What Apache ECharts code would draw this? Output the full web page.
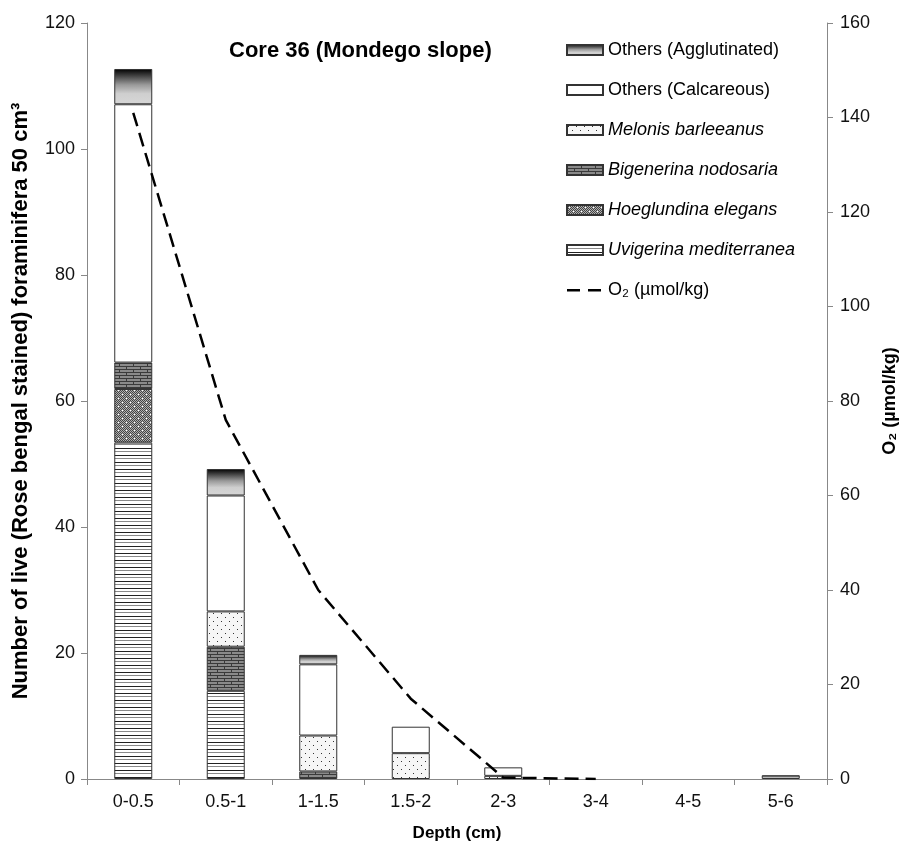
<!DOCTYPE html>
<html>
<head>
<meta charset="utf-8">
<script src="https://cdn.jsdelivr.net/npm/echarts@6/dist/echarts.min.js"></script>
<style>
html,body{margin:0;padding:0;background:#fff;}
#chart{width:908px;height:843px;}
</style>
</head>
<body>
<div id="chart"></div>
<script>
// ---- data ----
var categories = ['0-0.5','0.5-1','1-1.5','1.5-2','2-3','3-4','4-5','5-6'];
var uvigerina    = [53.4, 14.0, 0,   0,   0,   0, 0, 0];
var hoeglundina  = [8.5,  0,    0,   0,   0,   0, 0, 0];
var bigenerina   = [4.2,  7.0,  1.2, 0,   0,   0, 0, 0];
var melonis      = [0,    5.6,  5.7, 4.1, 0.5, 0, 0, 0];
var calcareous   = [41.0, 18.4, 11.3,4.2, 1.35,0, 0, 0];
var agglutinated = [5.6,  4.2,  1.5, 0,   0,   0, 0, 0.6];
var oxygen       = [141, 76, 40, 17, 0.3, 0, null, null];
var leftTicks = [0,20,40,60,80,100,120];
var rightTicks = [0,20,40,60,80,100,120,140,160];

// ---- patterns ----
function makeCanvas(w,h,draw){var c=document.createElement('canvas');c.width=w;c.height=h;var g=c.getContext('2d');draw(g,w,h);return c;}
var patUvi = makeCanvas(8,7,function(g,w,h){g.fillStyle='#fff';g.fillRect(0,0,w,h);g.fillStyle='#222';g.fillRect(0,0,w,1);g.fillStyle='#8a8a8a';g.fillRect(0,3,w,1);});
var patHoe = makeCanvas(8,8,function(g,w,h){for(var y=0;y<h;y++)for(var x=0;x<w;x++){g.fillStyle=((x+y)%2===0)?'#444':'#b0b0b0';g.fillRect(x,y,1,1);}g.fillStyle='#fff';g.fillRect(2,2,1,1);g.fillRect(6,6,1,1);});
var patBig = makeCanvas(14,6,function(g,w,h){g.fillStyle='#8a8a8a';g.fillRect(0,0,w,h);g.fillStyle='#3a3a3a';g.fillRect(0,0,w,1);g.fillRect(0,3,w,1);g.fillRect(0,1,1,2);g.fillRect(7,4,1,2);});
var patMel = makeCanvas(8,8,function(g,w,h){g.fillStyle='#f6f6f6';g.fillRect(0,0,w,h);g.fillStyle='#333';g.fillRect(1,1,1,1);g.fillRect(5,5,1,1);});

function pat(c){return {image:c, repeat:'repeat'};}
function clean(arr){return arr.map(function(v){return v===0?'-':v;});}

var border = {borderColor:'#333', borderWidth:1};
function barSeries(name, data, color){
  return {name:name, type:'bar', stack:'total', barWidth:38, data:clean(data),
    itemStyle:Object.assign({color:color}, border)};
}

var aggGrad = new echarts.graphic.LinearGradient(0,0,0,1,[
  {offset:0,color:'#000'},{offset:0.45,color:'#9a9a9a'},{offset:0.7,color:'#cfcfcf'},{offset:1,color:'#d6d6d6'}]);

var chart = echarts.init(document.getElementById('chart'));
var FF = 'Arial, "Liberation Sans", sans-serif';
var axisFont = {fontFamily:FF, fontSize:18, color:'#111'};
var italic = {fontStyle:'italic', fontSize:18, fontFamily:FF, color:'#000'};
var italicNames = ['Melonis barleeanus','Bigenerina nodosaria','Hoeglundina elegans','Uvigerina mediterranea'];
var dashIcon = 'path://M0,0h0.05v0.05h-0.05z M0,4h13v2.4h-13z M21,4h13v2.4h-13z M35.95,9.95h0.05v0.05h-0.05z';

chart.setOption({
  animation:false,
  backgroundColor:'#fff',
  title:{text:'Core 36 (Mondego slope)', left:224, top:35,
    textStyle:{fontFamily:FF, fontWeight:'bold', fontSize:22, color:'#000'}},
  legend:{orient:'vertical', left:561, top:35, itemWidth:36, itemHeight:10, itemGap:20, icon:'rect',
    data:['Others (Agglutinated)','Others (Calcareous)','Melonis barleeanus','Bigenerina nodosaria','Hoeglundina elegans','Uvigerina mediterranea',
      {name:'O₂ (µmol/kg)', icon:dashIcon, itemStyle:{color:'#000', borderWidth:0}}],
    formatter:function(n){return italicNames.indexOf(n)>=0?'{i|'+n+'}':n;},
    textStyle:{fontFamily:FF, fontSize:18, color:'#000', lineHeight:20, rich:{i:italic}}},
  grid:{left:87, right:81, top:23, bottom:64, outerBoundsMode:'none', containLabel:false},
  xAxis:{type:'category', data:categories, name:'Depth (cm)', nameLocation:'middle', nameGap:46,
    nameTextStyle:{fontFamily:FF, fontWeight:'bold', fontSize:17, color:'#000'},
    axisLine:{lineStyle:{color:'#888'}}, axisTick:{show:true, inside:false, length:6, alignWithLabel:false, lineStyle:{color:'#888'}},
    axisLabel:Object.assign({margin:14}, axisFont)},
  yAxis:[
    {type:'value', min:0, max:120, interval:20, name:'Number of live (Rose bengal stained) foraminifera 50 cm³',
     nameLocation:'middle', nameGap:55,
     nameTextStyle:{fontFamily:FF, fontWeight:'bold', fontSize:22, color:'#000'},
     axisLine:{show:true, lineStyle:{color:'#888'}}, axisTick:{show:true, length:6, lineStyle:{color:'#888'}},
     splitLine:{show:false}, axisLabel:Object.assign({margin:12, formatter:function(v){return leftTicks.indexOf(v)>=0?String(v):'';}}, axisFont)},
    {type:'value', min:0, max:160, interval:20, name:'O₂ (µmol/kg)', nameLocation:'middle', nameGap:48,
     nameTextStyle:{fontFamily:FF, fontWeight:'bold', fontSize:18, color:'#000'},
     axisLine:{show:true, lineStyle:{color:'#888'}}, axisTick:{show:true, length:6, lineStyle:{color:'#888'}},
     splitLine:{show:false}, axisLabel:Object.assign({margin:13, formatter:function(v){return rightTicks.indexOf(v)>=0?String(v):'';}}, axisFont)}
  ],
  series:[
    barSeries('Uvigerina mediterranea', uvigerina, pat(patUvi)),
    barSeries('Hoeglundina elegans', hoeglundina, pat(patHoe)),
    barSeries('Bigenerina nodosaria', bigenerina, pat(patBig)),
    barSeries('Melonis barleeanus', melonis, pat(patMel)),
    barSeries('Others (Calcareous)', calcareous, '#fff'),
    barSeries('Others (Agglutinated)', agglutinated, aggGrad),
    {name:'O₂ (µmol/kg)', type:'line', yAxisIndex:1, data:oxygen, symbol:'none', showSymbol:false, z:5,
     connectNulls:false, itemStyle:{color:'#000'},
     lineStyle:{color:'#000', width:2.5, type:[14,7]}}
  ]
});
</script>
</body>
</html>
